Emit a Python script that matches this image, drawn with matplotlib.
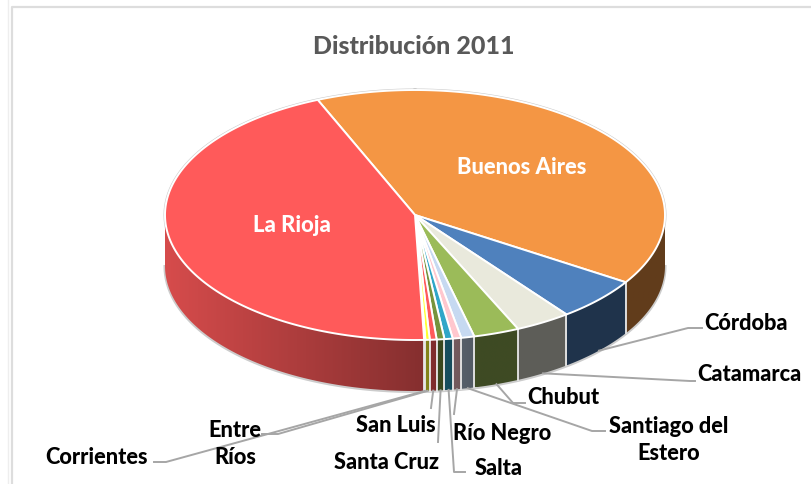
import matplotlib

matplotlib.use("Agg")
import matplotlib.pyplot as plt
import numpy as np

PROVINCES = ["Buenos Aires", "Córdoba", "Catamarca", "Chubut", "Santiago del Estero", "Río Negro",
             "Salta", "Santa Cruz", "San Luis", "Entre Ríos", "Corrientes", "La Rioja"]
SHARES = [40.4, 5.6, 3.6, 2.95, 0.85, 0.55, 0.53, 0.5, 0.44, 0.28, 0.08, 44.22]
COLORS = ["#F49644", "#4F81BD", "#E9E9DC", "#9BBB59", "#C6D9F1", "#FFC7CE",
          "#31A6C8", "#77933C", "#FF5A5A", "#FFFF33", "#FFC000", "#FF5A5A"]

# layout, in pixels of the picture
CX, CY = 415, 216
RX, RY = 250, 125
DEPTH = 51
START = -22.9
LABEL_COLOR = "black"
LINE_COLOR = "#A6A6A6"

# label text, its position, and the elbow points of the leader line
LABELS = {
    "Córdoba": ("Córdoba", 746, 324, [(688, 329), (702, 329)]),
    "Catamarca": ("Catamarca", 749, 375, [(690, 382), (695, 382)]),
    "Chubut": ("Chubut", 563, 398, [(513, 404), (525, 404)]),
    "Santiago del Estero": ("Santiago del\nEstero", 669, 440, [(592, 432), (605, 432)]),
    "Río Negro": ("Río Negro", 502, 434, [(454, 415)]),
    "Salta": ("Salta", 499, 469, [(454, 473), (465, 473)]),
    "Santa Cruz": ("Santa Cruz", 387, 463, [(438, 443)]),
    "San Luis": ("San Luis", 396, 426, [(431, 409)]),
    "Entre Ríos": ("Entre\nRíos", 235, 444, [(278, 435), (262, 435)]),
    "Corrientes": ("Corrientes", 96, 458, [(166, 463), (154, 463)]),
}


def point(angle, depth=0):
    """Angle in degrees, clockwise from the top of the pie."""
    radians = np.radians(angle)
    return CX + RX * np.sin(radians), CY - RY * np.cos(radians) + depth


def side_shade(x):
    return np.interp(x, [165, 425, 480, 665], [0.84, 0.52, 0.40, 0.40])


edges = START + np.concatenate([[0], np.cumsum(SHARES)]) / np.sum(SHARES) * 360

figure = plt.figure(figsize=(8.11, 4.85), dpi=100)
axis = figure.add_axes([0, 0, 1, 1])
plt.rcParams["font.family"] = ["Lato", "DejaVu Sans"]

# chart frame
axis.plot([11.5, 11.5, 811], [485, 7.5, 7.5], color="#DDDDDD", linewidth=1.6, zorder=1)
axis.plot([7.5, 7.5], [0, 485], color="#EEEEEE", linewidth=1, zorder=1)

axis.text(414, 47, "Distribución 2011", ha="center", va="center", color="#595959",
          fontsize=18, fontweight="black")

# soft outline behind the whole pie
x_top, y_top = point(np.linspace(0, 360, 361))
axis.plot(x_top, y_top, color="#CCCCCC", linewidth=2.2, zorder=2)
x_low, y_low = point(np.linspace(90, 270, 181), DEPTH)
axis.plot(x_low, y_low + 0.5, color="#CCCCCC", linewidth=2.2, zorder=2)

# side wall: a horizontal gradient clipped to the outline of each slice
for low, high, color in zip(edges[:-1], edges[1:], COLORS):
    base = np.array(matplotlib.colors.to_rgb(color))
    first, last = max(low, 90), min(high, 270)
    if first >= last:
        continue
    arc_x, arc_y = point(np.linspace(first, last, 120))
    outline = np.column_stack([np.r_[arc_x, arc_x[::-1]], np.r_[arc_y, arc_y[::-1] + DEPTH]])
    columns = np.linspace(arc_x.min(), arc_x.max(), 256)
    gradient = base[None, None, :] * side_shade(columns)[None, :, None]
    image = axis.imshow(gradient, extent=(arc_x.min(), arc_x.max(), outline[:, 1].max(), outline[:, 1].min()),
                        aspect="auto", interpolation="bilinear", zorder=3)
    image.set_clip_path(plt.Polygon(outline, transform=axis.transData))

# white separators on the side wall
for edge in edges:
    if 90 < edge % 360 < 270:
        x_edge, y_edge = point(edge)
        axis.plot([x_edge, x_edge], [y_edge, y_edge + DEPTH], color="#E8E8E8", linewidth=1.3, zorder=4)

# top of the pie
for low, high, color in zip(edges[:-1], edges[1:], COLORS):
    arc_x, arc_y = point(np.linspace(low, high, max(int(high - low) * 2, 4)))
    axis.fill(np.r_[CX, arc_x], np.r_[CY, arc_y], facecolor=color, edgecolor="white",
              linewidth=1.4, joinstyle="round", zorder=5)

axis.text(522, 168, "Buenos Aires", ha="center", va="center", color="white", fontsize=15.8,
          fontweight="black", zorder=6)
axis.text(292, 226, "La Rioja", ha="center", va="center", color="white", fontsize=15.8,
          fontweight="black", zorder=6)

# outer labels with leader lines from the lower rim of each slice
for name, low, high in zip(PROVINCES, edges[:-1], edges[1:]):
    if name not in LABELS:
        continue
    text, x_text, y_text, elbows = LABELS[name]
    x_start, y_start = point((low + high) / 2, DEPTH)
    line_x = [x_start] + [p[0] for p in elbows]
    line_y = [y_start] + [p[1] for p in elbows]
    axis.plot(line_x, line_y, color=LINE_COLOR, linewidth=1.4, zorder=6)
    axis.text(x_text, y_text, text, ha="center", va="center", color=LABEL_COLOR, fontsize=15.7,
              fontweight="black", linespacing=1.35, zorder=7)

axis.set_xlim(0, 811)
axis.set_ylim(485, 0)
axis.axis("off")

figure.savefig("out.png", dpi=100)
